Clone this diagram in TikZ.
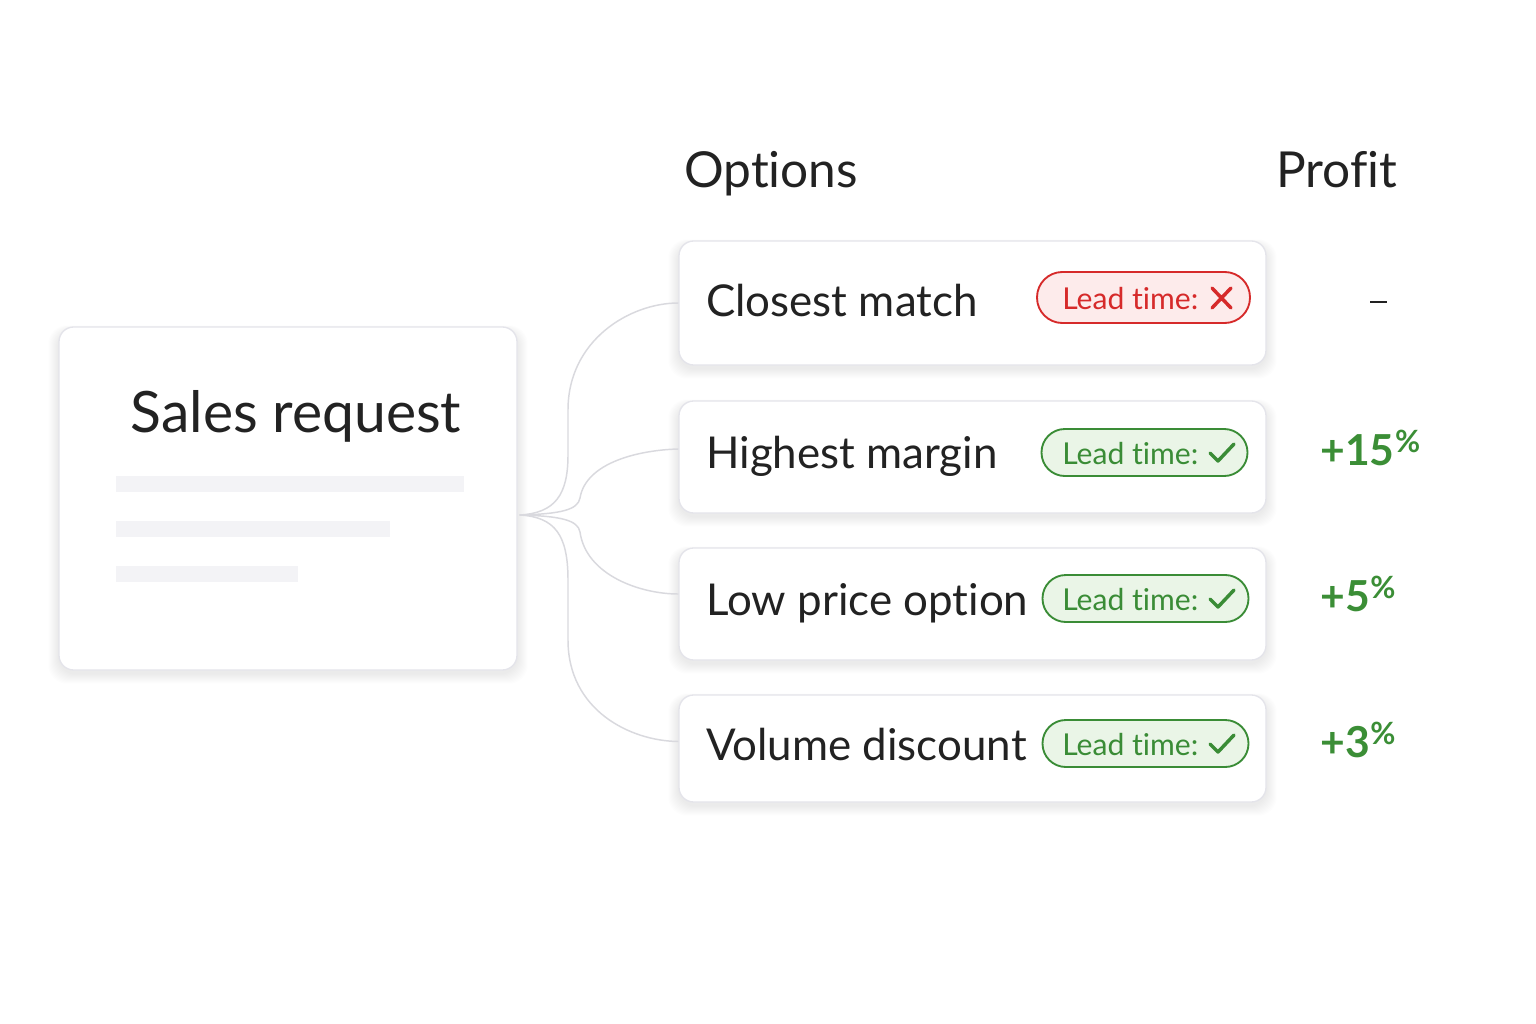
\documentclass[tikz,border=0pt]{standalone}
\usepackage{fontspec}
\setmainfont{Lato}[Ligatures=NoCommon]
\usetikzlibrary{calc}
\definecolor{ink}{HTML}{222222}
\definecolor{cardline}{HTML}{E4E4EA}
\definecolor{barfill}{HTML}{F3F3F6}
\definecolor{wire}{HTML}{D9D9DE}
\definecolor{redc}{HTML}{D62A2A}
\definecolor{redfill}{HTML}{FDEBEB}
\definecolor{greenc}{HTML}{3A8C36}
\definecolor{greenfill}{HTML}{EAF5E7}
\definecolor{profitg}{HTML}{3B8E36}
\pgfdeclarelayer{back}
\pgfdeclarelayer{shade}
\pgfsetlayers{back,shade,main}
\tikzset{
  card/.style={draw=cardline, line width=1pt, fill=white, rounded corners=11pt},
  badgered/.style={draw=redc, line width=1.4pt, fill=redfill, rounded corners=19pt},
  badgegreen/.style={draw=greenc, line width=1.4pt, fill=greenfill, rounded corners=17.5pt},
  wirestyle/.style={draw=wire, line width=1.1pt},
  bar/.style={fill=barfill, draw=none},
  lbl/.style={anchor=base west, inner sep=0pt, text=ink, font=\fontsize{32.9}{40}\selectfont},
  hdr/.style={anchor=base west, inner sep=0pt, text=ink, font=\fontsize{37.2}{44}\selectfont},
  ltred/.style={anchor=base west, inner sep=0pt, text=redc, font=\fontsize{22.6}{26}\selectfont},
  ltgreen/.style={anchor=base west, inner sep=0pt, text=greenc, font=\fontsize{22.6}{26}\selectfont},
  prof/.style={anchor=base west, inner sep=0pt, text=profitg, font=\bfseries\fontsize{32}{36}\selectfont},
  tickmark/.style={line width=2.6pt, line cap=round, line join=round},
  shadelayer/.style={fill=black, opacity=0.008, rounded corners=14pt}
}
\newcommand{\pct}{\hspace{0.5pt}\raisebox{0.3em}{\fontsize{23}{26}\selectfont\%}}
\newcommand{\softshadow}[1]{%
  \foreach \i in {1,...,10}{%
    \fill[shadelayer] ($(#1.south west)+(-\i*1.0, 3+\i*1.0)$) rectangle ($(#1.north east)+(\i*1.0, 4-\i*0.5)$);
  }}
\begin{document}
\begin{tikzpicture}[x=0.75pt,y=-0.75pt]
\useasboundingbox (0,0) rectangle (1536,1024);
\begin{pgfonlayer}{back}
\fill[white] (0,0) rectangle (1536,1024);
\end{pgfonlayer}

% headers
\node[hdr] (hopt) at (684,187) {Options};
\node[hdr] (hprof) at (1276,187) {Profit};

% request card
\node[card, minimum width=343.5pt, minimum height=257.25pt] (req) at (288,498.5) {};
\node[anchor=base, inner sep=0pt, text=ink, font=\fontsize{42.8}{50}\selectfont] (reqt) at (296,432) {Sales request};
\fill[bar] (116,476) rectangle (464,492);
\fill[bar] (116,521) rectangle (390,537);
\fill[bar] (116,566) rectangle (298,582);

% option cards
\node[card, minimum width=440.25pt, minimum height=93pt] (o1) at (972.5,303) {};
\node[card, minimum width=440.25pt, minimum height=84pt] (o2) at (972.5,457) {};
\node[card, minimum width=440.25pt, minimum height=84pt] (o3) at (972.5,604) {};
\node[card, minimum width=440.25pt, minimum height=80.25pt] (o4) at (972.5,748.5) {};

\begin{pgfonlayer}{shade}
\softshadow{req}
\softshadow{o1}
\softshadow{o2}
\softshadow{o3}
\softshadow{o4}
\end{pgfonlayer}

\node[lbl] (l1) at (706,316) {Closest match};
\node[lbl] (l2) at (706,468) {Highest margin};
\node[lbl] (l3) at (706,615) {Low price option};
\node[lbl] (l4) at (706,760) {Volume discount};

% badges
\node[badgered, minimum width=159.75pt, minimum height=38.25pt] (b1) at (1143.5,297.5) {};
\node[badgegreen, minimum width=154.5pt, minimum height=35.25pt] (b2) at (1144.5,452.5) {};
\node[badgegreen, minimum width=154.5pt, minimum height=35.25pt] (b3) at (1145.5,598.5) {};
\node[badgegreen, minimum width=154.5pt, minimum height=35.25pt] (b4) at (1145.5,743.5) {};

\node[ltred] (t1) at (1062,309) {Lead time:};
\node[ltgreen] (t2) at (1062,464) {Lead time:};
\node[ltgreen] (t3) at (1062,610) {Lead time:};
\node[ltgreen] (t4) at (1062,755) {Lead time:};

\draw[tickmark, redc] (1212,288) -- (1231,308) (1231,288) -- (1212,308);
\draw[tickmark, greenc] (1210,453) -- (1218,461) -- (1234,444);
\draw[tickmark, greenc] (1210,599) -- (1218,607) -- (1234,590);
\draw[tickmark, greenc] (1210,744) -- (1218,752) -- (1234,735);

% profit
\draw[ink, line width=1.3pt] (1370,302) -- (1387,302);
\node[prof] (p2) at (1320,465) {+15\pct};
\node[prof] (p3) at (1320,611) {+5\pct};
\node[prof] (p4) at (1320,757) {+3\pct};

% connectors
\coordinate (hub) at ($(req.east)+(2,16.5)$);
\draw[wirestyle] (hub) .. controls (555,513) and (568,495) .. (568,455)
  -- (568,410) .. controls (568,340) and (630,303) .. (o1.west);
\draw[wirestyle] (hub) .. controls (560,514) and (578,510) .. (580,498)
  .. controls (586,462) and (640,450) .. ($(o2.west)+(0,-8)$);
\draw[wirestyle] (hub) .. controls (560,516) and (578,520) .. (580,532)
  .. controls (586,575) and (640,594) .. ($(o3.west)+(0,-10)$);
\draw[wirestyle] (hub) .. controls (555,517) and (568,535) .. (568,580)
  -- (568,640) .. controls (568,710) and (630,741) .. ($(o4.west)+(0,-7)$);
\end{tikzpicture}
\end{document}
